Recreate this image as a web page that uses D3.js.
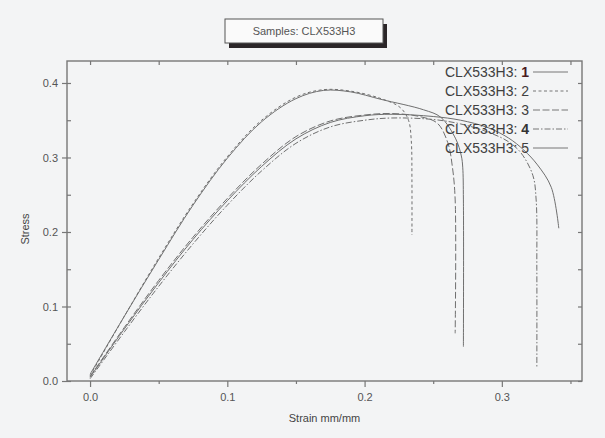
<!DOCTYPE html>
<html><head><meta charset="utf-8">
<script src="https://cdn.jsdelivr.net/npm/d3@7"></script>
<style>body{margin:0;background:#f3f4f5;}svg{display:block;font-family:"Liberation Sans",Arial,sans-serif;}</style>
</head><body><svg id="c" width="605" height="438"></svg>
<script>
const title = "Samples: CLX533H3";
const xLabel = "Strain mm/mm";
const yLabel = "Stress";
const sampleNames = ["1","2","3","4","5"];
const xMajorTicks = [0, 0.1, 0.2, 0.3];
const xMinorTicks = [0.05, 0.15, 0.25, 0.35];
const yMajorTicks = [0, 0.1, 0.2, 0.3, 0.4];
const yAllTicks = [0, 0.05, 0.1, 0.15, 0.2, 0.25, 0.3, 0.35, 0.4];
const xAllTicks = [0, 0.05, 0.1, 0.15, 0.2, 0.25, 0.3, 0.35];

const strain1 = [0, 0.025, 0.05, 0.075, 0.1, 0.125, 0.15, 0.17, 0.19, 0.212, 0.243, 0.2555, 0.2664, 0.2705, 0.2715, 0.272, 0.272];
const stress1 = [0.009, 0.087, 0.163, 0.236, 0.299, 0.348, 0.379, 0.390, 0.388, 0.378, 0.364, 0.354, 0.325, 0.302, 0.287, 0.243, 0.046];
const strain2 = [0, 0.025, 0.05, 0.075, 0.1, 0.125, 0.15, 0.17, 0.19, 0.212, 0.226, 0.232, 0.234, 0.2345, 0.2345];
const stress2 = [0.007, 0.087, 0.165, 0.238, 0.301, 0.350, 0.381, 0.391, 0.389, 0.379, 0.367, 0.35, 0.323, 0.27, 0.196];
const strain3 = [0, 0.025, 0.05, 0.075, 0.1, 0.125, 0.15, 0.175, 0.2, 0.22, 0.24, 0.253, 0.2606, 0.264, 0.266, 0.266];
const stress3 = [0.006, 0.072, 0.135, 0.193, 0.245, 0.291, 0.328, 0.349, 0.357, 0.359, 0.355, 0.346, 0.32, 0.287, 0.243, 0.064];
const strain4 = [0, 0.025, 0.05, 0.075, 0.1, 0.125, 0.15, 0.175, 0.2, 0.22, 0.25, 0.27, 0.29, 0.305, 0.314, 0.3226, 0.325, 0.3255, 0.3255];
const stress4 = [0.003, 0.066, 0.127, 0.184, 0.236, 0.282, 0.319, 0.341, 0.350, 0.353, 0.351, 0.345, 0.334, 0.321, 0.306, 0.276, 0.243, 0.15, 0.019];
const strain5 = [0, 0.025, 0.05, 0.075, 0.1, 0.125, 0.15, 0.175, 0.2, 0.22, 0.25, 0.27, 0.29, 0.305, 0.316, 0.326, 0.336, 0.3415];
const stress5 = [0.005, 0.07, 0.132, 0.19, 0.242, 0.288, 0.325, 0.347, 0.356, 0.358, 0.355, 0.35, 0.34, 0.326, 0.31, 0.29, 0.26, 0.205];

const strains = [strain1, strain2, strain3, strain4, strain5];
const stresses = [stress1, stress2, stress3, stress4, stress5];
const dashes = [null, "3,2.5", "7,2.5", "6,2,1.5,2", null];

const L = 67, R = 582, T = 61, B = 381;
const svg = d3.select("#c");
const x = d3.scaleLinear().domain([-0.0168, 0.3584]).range([L, R]);
const y = d3.scaleLinear().domain([0, 0.4295]).range([B, T]);
const axisColor = "#777";
const fmt = d3.format(".1f");

function styleAxis(g, hideText) {
  g.select(".domain").remove();
  g.selectAll(".tick line").attr("stroke", axisColor).attr("stroke-width", 1.2);
  g.selectAll(".tick text").attr("fill", "#555").style("font-size", "11px").style("font-family", "'Liberation Sans',Arial,sans-serif");
  if (hideText) g.selectAll(".tick text").remove();
}

// bottom
svg.append("g").attr("transform", `translate(0,${B})`)
  .call(d3.axisBottom(x).tickValues(xMajorTicks).tickSize(6).tickPadding(6).tickFormat(fmt)).call(g => styleAxis(g, false));
svg.append("g").attr("transform", `translate(0,${B})`)
  .call(d3.axisBottom(x).tickValues(xMinorTicks).tickSize(3)).call(g => styleAxis(g, true));
// top inward
svg.append("g").attr("transform", `translate(0,${T})`)
  .call(d3.axisBottom(x).tickValues(xAllTicks).tickSize(4)).call(g => styleAxis(g, true));
// left
svg.append("g").attr("transform", `translate(${L},0)`)
  .call(d3.axisLeft(y).tickValues(yMajorTicks).tickSize(5).tickPadding(4).tickFormat(fmt)).call(g => styleAxis(g, false));
svg.append("g").attr("transform", `translate(${L},0)`)
  .call(d3.axisRight(y).tickValues(yAllTicks).tickSize(4)).call(g => styleAxis(g, true));
// right inward
svg.append("g").attr("transform", `translate(${R},0)`)
  .call(d3.axisLeft(y).tickValues(yAllTicks).tickSize(4)).call(g => styleAxis(g, true));

svg.append("rect").attr("x", L).attr("y", T).attr("width", R - L).attr("height", B - T)
  .attr("fill", "none").attr("stroke", axisColor).attr("stroke-width", 1.4);

// curves
const line = d3.line().x(d => x(d[0])).y(d => y(d[1])).curve(d3.curveCatmullRom.alpha(0.5));
strains.forEach((s, i) => {
  const pts = s.map((v, j) => [v, stresses[i][j]]);
  svg.append("path").attr("d", line(pts)).attr("fill", "none")
    .attr("stroke", "#6f6f6f").attr("stroke-width", 1)
    .attr("stroke-dasharray", dashes[i]);
});

// legend
const legX = 445, legY0 = 77, legDy = 19;
sampleNames.forEach((n, i) => {
  const t = svg.append("text").attr("x", legX).attr("y", legY0 + i * legDy)
    .attr("fill", "#404040").style("font-size", "14px");
  t.append("tspan").text("CLX533H3: ");
  const num = t.append("tspan").text(n);
  if (i === 0) num.attr("fill", "#4a1a1e").style("font-weight", "bold");
  if (i === 3) num.style("font-weight", "bold").attr("fill", "#333");
  const ly = legY0 + i * legDy - 5;
  svg.append("line").attr("x1", 533).attr("x2", 568).attr("y1", ly).attr("y2", ly)
    .attr("stroke", "#777").attr("stroke-width", 1).attr("stroke-dasharray", dashes[i]);
});

// axis labels
svg.append("text").attr("x", (L + R) / 2).attr("y", 422).attr("text-anchor", "middle")
  .attr("fill", "#444").style("font-size", "11px").text(xLabel);
svg.append("text").attr("transform", "translate(29,229) rotate(-90)").attr("text-anchor", "middle")
  .attr("fill", "#444").style("font-size", "11px").text(yLabel);

// title box
svg.append("rect").attr("x", 229).attr("y", 24).attr("width", 158).attr("height", 24).attr("fill", "#2b2628");
svg.append("rect").attr("x", 225).attr("y", 19).attr("width", 158).attr("height", 24)
  .attr("fill", "#fafafa").attr("stroke", "#555").attr("stroke-width", 1);
svg.append("text").attr("x", 304).attr("y", 35).attr("text-anchor", "middle")
  .attr("fill", "#555").style("font-size", "11px").text(title);
</script></body></html>
